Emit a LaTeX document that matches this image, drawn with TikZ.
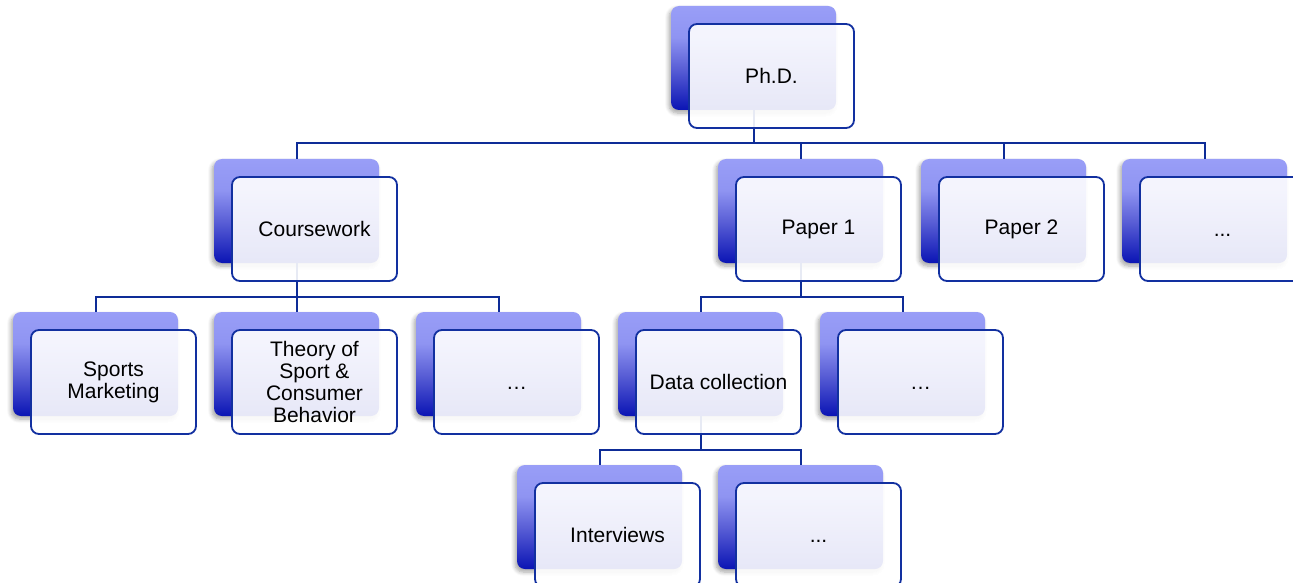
\documentclass[tikz,border=0pt]{standalone}
\usepackage{fontspec}
\setmainfont{Liberation Sans}
\usetikzlibrary{calc,shadows.blur}

\definecolor{blight}{HTML}{999EF7}
\definecolor{bhigh}{HTML}{8F94F2}
\definecolor{bmid}{HTML}{5A5FD6}
\definecolor{bdark}{HTML}{0A14B4}
\definecolor{edgeblue}{HTML}{1230A0}
\definecolor{linkblue}{HTML}{0E2C97}

\pgfdeclareverticalshading{backgrad}{100bp}{%
  color(0bp)=(bdark); color(25bp)=(bdark); color(45bp)=(bmid);
  color(60bp)=(bhigh); color(75bp)=(blight); color(100bp)=(blight)}

\tikzset{
  backbox/.style={rectangle, rounded corners=8pt, minimum width=165pt,
    minimum height=104pt, inner sep=0pt, shading=backgrad,
    blur shadow={shadow xshift=-2pt, shadow yshift=-3pt,
      shadow blur steps=6, shadow blur radius=4pt, shadow opacity=35}},
  frontbox/.style={rectangle, rounded corners=8pt, minimum width=165pt,
    minimum height=104pt, inner sep=2pt, draw=edgeblue, line width=1.8pt,
    fill=white, fill opacity=0.9, text opacity=1, align=center,
    font=\fontsize{21}{22}\selectfont,
    execute at begin node=\rule{0pt}{15pt}},
  conn/.style={draw=linkblue, line width=2pt}
}

\begin{document}
\begin{tikzpicture}[x=1pt,y=-1pt]
\useasboundingbox (0,0) rectangle (1293,583);

% back cards (gradient), each with its front card offset by (18,18)
\node[backbox] (phd-b)  at (753.5,58)  {};
\node[backbox] (cw-b)   at (296.5,211) {};
\node[backbox] (p1-b)   at (800.5,211) {};
\node[backbox] (p2-b)   at (1003.5,211) {};
\node[backbox] (pm-b)   at (1204.5,211) {};
\node[backbox] (sm-b)   at (95.5,364)  {};
\node[backbox] (th-b)   at (296.5,364) {};
\node[backbox] (cm-b)   at (498.5,364) {};
\node[backbox] (dc-b)   at (700.5,364) {};
\node[backbox] (dm-b)   at (902.5,364) {};
\node[backbox] (iv-b)   at (599.5,517) {};
\node[backbox] (im-b)   at (800.5,517) {};

% connectors: from a back card down to a bus halfway to the next row
\coordinate (bus1) at (0,143.5);
\coordinate (bus2) at (0,296.5);
\coordinate (bus3) at (0,449.5);
\foreach \p/\c/\b in {phd/cw/bus1, phd/p1/bus1, phd/p2/bus1, phd/pm/bus1,
                      cw/sm/bus2, cw/th/bus2, cw/cm/bus2,
                      p1/dc/bus2, p1/dm/bus2,
                      dc/iv/bus3, dc/im/bus3}
  \draw[conn] (\p-b.south) -- (\p-b.south |- \b) -| (\c-b.north);

\node[frontbox] (phd) at ($(phd-b)+(18,18)$) {Ph.D.};
\node[frontbox] (cw)  at ($(cw-b)+(18,18)$)  {Coursework};
\node[frontbox] (p1)  at ($(p1-b)+(18,18)$)  {Paper 1};
\node[frontbox] (p2)  at ($(p2-b)+(18,18)$)  {Paper 2};
\node[frontbox] (pm)  at ($(pm-b)+(18,18)$)  {...};
\node[frontbox] (sm)  at ($(sm-b)+(18,18)$)  {Sports\\Marketing};
\node[frontbox] (th)  at ($(th-b)+(18,18)$)  {Theory of\\Sport \&\\Consumer\\Behavior};
\node[frontbox] (cm)  at ($(cm-b)+(18,18)$)  {…};
\node[frontbox] (dc)  at ($(dc-b)+(18,18)$)  {Data collection};
\node[frontbox] (dm)  at ($(dm-b)+(18,18)$)  {…};
\node[frontbox] (iv)  at ($(iv-b)+(18,18)$)  {Interviews};
\node[frontbox] (im)  at ($(im-b)+(18,18)$)  {...};
\end{tikzpicture}
\end{document}
